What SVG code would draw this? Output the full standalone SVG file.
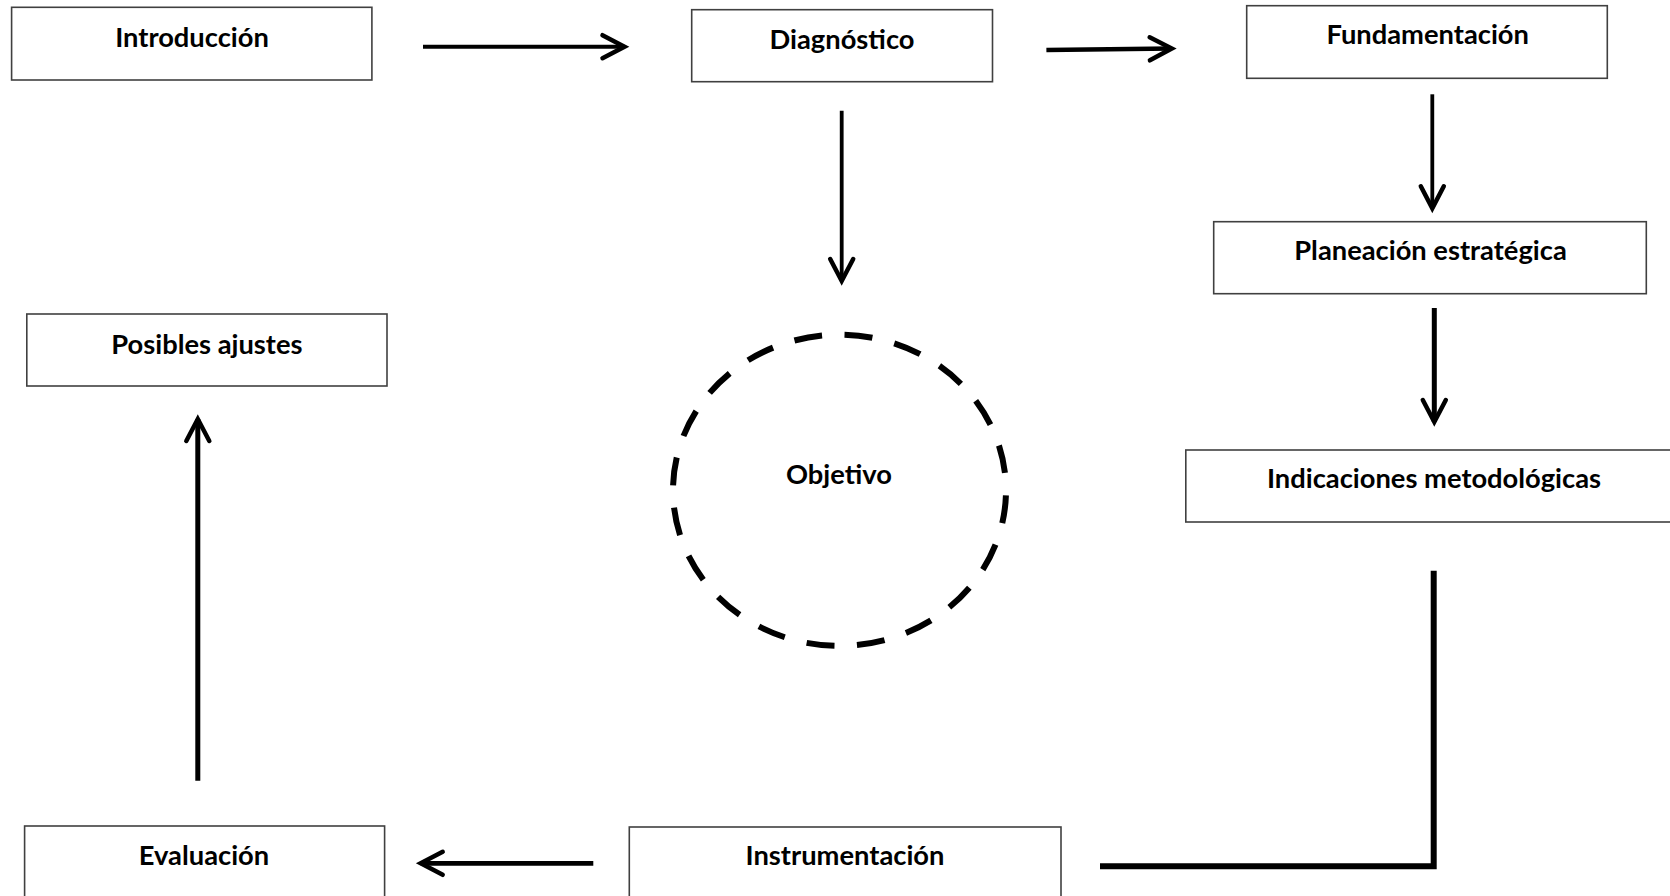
<svg xmlns="http://www.w3.org/2000/svg" width="1670" height="896" viewBox="0 0 1670 896">
<style>
  .box { fill: #ffffff; stroke: #404040; stroke-width: 1.6; }
  .lbl { font-family: Lato, "Open Sans", "Liberation Sans", sans-serif; font-weight: 700; font-size: 27.3px; fill: #000000; text-anchor: middle; }
  .conn { fill: none; stroke: #000000; stroke-linecap: butt; }
  .arr { marker-end: url(#head); }
</style>
<defs>
  <marker id="head" markerUnits="userSpaceOnUse" viewBox="-30 -16 36 32" markerWidth="36" markerHeight="32" refX="0" refY="0" orient="auto">
    <path d="M-22,-11.5 L0,0 L-22,11.5" fill="none" stroke="#000000" stroke-width="4.5" stroke-linecap="round" stroke-linejoin="miter"/>
  </marker>
</defs>
<rect width="1670" height="896" fill="#ffffff"/>

<g id="connectors">
  <path class="conn arr" stroke-width="4" d="M423,46.7 L624.5,46.7"/>
  <path class="conn arr" stroke-width="4.5" d="M1046.4,50 L1171.8,48.6"/>
  <path class="conn arr" stroke-width="3.8" d="M841.7,110.7 L841.7,281"/>
  <path class="conn arr" stroke-width="3.8" d="M1432.3,94.3 L1432.3,208.3"/>
  <path class="conn arr" stroke-width="5" d="M1434.3,308 L1434.3,422"/>
  <path class="conn" stroke-width="6" stroke-linejoin="miter" d="M1433.7,570.7 L1433.7,866.3 L1100,866.3"/>
  <path class="conn arr" stroke-width="4.7" d="M593.3,863.3 L420.7,863.3"/>
  <path class="conn arr" stroke-width="5" d="M197.8,780.7 L197.8,419"/>
</g>

<g id="introduccion">
  <rect class="box" x="11.6" y="7.3" width="360.3" height="72.7"/>
  <text class="lbl" x="192" y="46.7">Introducción</text>
</g>
<g id="diagnostico">
  <rect class="box" x="691.7" y="9.7" width="300.8" height="72"/>
  <text class="lbl" x="842" y="48.7">Diagnóstico</text>
</g>
<g id="fundamentacion">
  <rect class="box" x="1246.7" y="5.7" width="360.6" height="72.6"/>
  <text class="lbl" x="1427.7" y="44.3">Fundamentación</text>
</g>
<g id="planeacion">
  <rect class="box" x="1213.7" y="221.7" width="432.6" height="72"/>
  <text class="lbl" x="1430.5" y="260">Planeación estratégica</text>
</g>
<g id="indicaciones">
  <rect class="box" x="1185.8" y="450" width="520" height="72"/>
  <text class="lbl" x="1434" y="488">Indicaciones metodológicas</text>
</g>
<g id="posibles">
  <rect class="box" x="26.8" y="314" width="360.2" height="72"/>
  <text class="lbl" x="206.9" y="353.7">Posibles ajustes</text>
</g>
<g id="objetivo">
  <ellipse cx="839.5" cy="490.3" rx="166.5" ry="155.6" fill="none" stroke="#000000" stroke-width="6" pathLength="1000" stroke-dasharray="27.7 22.3" stroke-dashoffset="45"/>
  <text class="lbl" x="839" y="484.3">Objetivo</text>
</g>
<g id="evaluacion">
  <rect class="box" x="24.6" y="826" width="360" height="90"/>
  <text class="lbl" x="204" y="865.3">Evaluación</text>
</g>
<g id="instrumentacion">
  <rect class="box" x="629.3" y="827" width="431.7" height="90"/>
  <text class="lbl" x="845" y="865.3">Instrumentación</text>
</g>
</svg>
